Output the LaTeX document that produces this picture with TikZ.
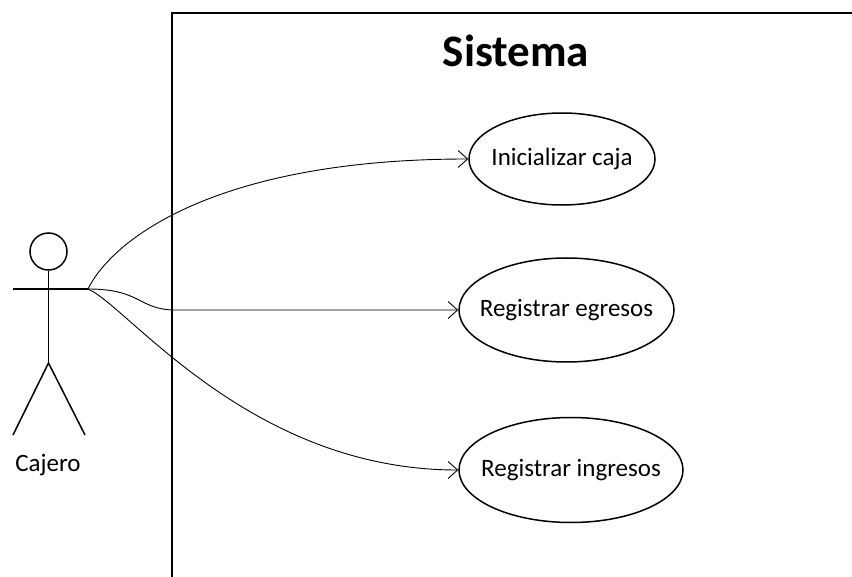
\documentclass[tikz,border=0pt]{standalone}
\usepackage{fontspec}
\setmainfont{Carlito}
\usetikzlibrary{arrows.meta,shapes.geometric}
\tikzset{
  uc/.style={ellipse, draw, line width=1.5pt, inner sep=0pt},
  lbl/.style={font=\fontsize{25}{30}\selectfont, inner sep=0pt},
  conn/.style={line width=0.9pt, -{Straight Barb[length=9.5pt,width=17pt,line width=0.9pt]}},
  stick/.style={line width=1.5pt, line cap=butt},
  frame/.style={line width=2pt}
}
\begin{document}
\begin{tikzpicture}[x=1pt,y=-1pt]
\useasboundingbox (0,0) rectangle (852,577);
% system boundary (extends beyond the picture)
\draw[frame] (172,590) -- (172,12.7) -- (870,12.7);
\node[font=\fontsize{45}{54}\selectfont\bfseries, anchor=base, inner sep=0pt] (title) at (516,67) {Sistema};
% actor
\node[circle, draw, line width=1.5pt, minimum size=37pt, inner sep=0pt] (head) at (48.5,251.5) {};
\coordinate (hip) at (48.5,363);
\coordinate (lefthand) at (13,289);
\coordinate (hand) at (88,289);
\coordinate (lfoot) at (13,435);
\coordinate (rfoot) at (85,435);
\draw[stick] (head.south) -- (hip);
\draw[stick] (lefthand) -- (hand);
\draw[stick] (lfoot) -- (hip) -- (rfoot);
\node[lbl] (cajero) at (48,465) {Cajero};
% use cases
\node[uc, minimum width=186pt, minimum height=92pt] (u1) at (562,159) {};
\node[lbl] (t1) at (u1.center) {Inicializar caja};
\node[uc, minimum width=215pt, minimum height=104pt] (u2) at (566.5,310) {};
\node[lbl] (t2) at (u2.center) {Registrar egresos};
\node[uc, minimum width=224pt, minimum height=105pt] (u3) at (571,470) {};
\node[lbl] (t3) at (u3.center) {Registrar ingresos};
% connectors
\coordinate (bend2) at (176,310);
\draw[conn] (hand) .. controls (112,240) and (215,159) .. (u1.west);
\draw[conn] (hand) .. controls (142,289) and (138,310) .. (bend2) -- (u2.west);
\draw[conn] (hand) .. controls (128,306) and (250,470) .. (u3.west);
\end{tikzpicture}
\end{document}
